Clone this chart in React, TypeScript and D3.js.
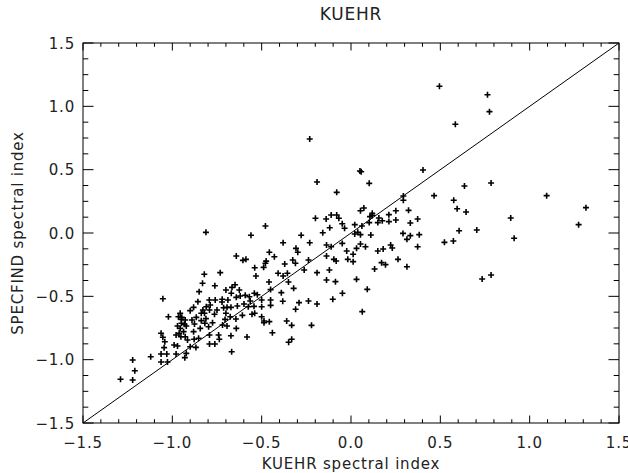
import React from "react";
import * as d3 from "d3";

const kuehrIdx: number[] = [
  -0.231,-0.190,-0.080,-0.199,-0.139,-0.111,-0.080,-0.068,-0.049,-0.119,-0.036,-0.479,
  0.495,0.764,0.775,0.584,0.057,0.050,0.102,0.403,0.635,0.784,0.465,0.293,0.293,0.575,0.594,0.644,1.095,1.315,1.274,0.894,0.053,0.072,0.119,0.119,0.106,0.156,0.175,0.212,0.251,0.322,0.373,0.332,0.251,0.212,0.150,0.102,0.021,0.061,
  0.021,0.038,0.053,0.111,-0.049,0.031,0.053,0.081,0.012,0.012,0.031,0.091,0.063,0.132,0.150,0.180,0.171,0.193,0.222,0.231,0.263,0.313,0.291,0.313,0.332,0.382,0.373,0.523,0.573,0.605,0.704,0.913,0.734,0.784,
  -0.812,-0.560,-0.380,-0.279,-0.231,-0.158,-0.137,-0.111,-0.024,-0.018,-0.137,-0.096,-0.083,-0.308,-0.298,-0.311,-0.457,-0.429,-0.642,-0.605,-0.588,-0.479,-0.475,-0.371,-0.326,-0.238,-0.262,-0.190,-0.121,-0.137,-0.087,-0.102,-0.048,-0.190,-0.238,-0.291,-0.310,-0.360,-0.332,-0.221,-0.332,-0.349,-0.440,-0.487,-0.487,-0.500,-0.457,-0.582,-0.539,-0.500,-0.450,-0.450,-0.382,-0.390,-0.450,-0.408,-0.380,-0.350,-0.321,-0.356,-0.459,-0.489,-0.539,-0.532,-0.541,-0.500,-0.524,-0.564,-0.592,-0.569,-0.599,-0.575,-0.543,-0.554,-0.608,-0.636,-0.642,-0.620,-0.625,-0.666,-0.649,-0.700,-0.670,-0.689,-0.721,-0.722,-0.760,-0.793,-0.788,-0.750,-0.713,-0.694,-0.672,-0.700,-0.705,-0.676,-0.644,-0.642,-0.672,-0.668,-0.694,-0.719,-0.741,-0.737,-0.762,-0.792,-0.792,-0.797,-0.775,-0.764,-0.792,-0.810,-0.829,-0.820,-0.812,-0.818,-0.844,-0.838,-0.838,-0.857,-0.881,-0.900,-0.890,-0.876,-0.866,-0.881,-0.878,-0.853,-0.868,-0.900,-0.915,-0.928,-0.937,-0.956,-0.979,-0.952,-0.949,-0.971,-0.922,-0.928,-0.950,-0.956,-0.966,-0.947,-0.932,-0.962,-0.971,-0.990,-1.022,-1.053,-1.063,-1.053,-1.042,-1.046,-1.063,-1.031,-1.063,-1.027,-0.979,-0.930,-0.922,-1.121,-1.222,-1.210,-1.222,-1.290,-0.831,-0.821,-0.850,-0.762,-0.732,
];

const specfindIdx: number[] = [
  0.742,0.403,0.321,0.116,0.111,0.142,0.142,0.116,0.073,0.042,0.037,0.055,
  1.158,1.092,0.958,0.858,0.484,0.490,0.392,0.497,0.371,0.395,0.295,0.292,0.258,0.258,0.192,0.166,0.295,0.200,0.066,0.118,0.176,0.197,0.155,0.139,0.129,0.118,0.097,0.145,0.176,0.179,0.111,0.079,0.103,0.090,0.082,0.082,0.066,0.055,
  -0.008,0.005,-0.013,-0.016,-0.082,-0.121,-0.087,-0.108,-0.168,-0.226,-0.366,-0.445,-0.621,-0.284,-0.142,-0.126,-0.234,-0.250,-0.095,-0.118,-0.208,-0.266,-0.003,-0.050,-0.021,-0.013,-0.108,-0.074,-0.063,0.018,0.024,-0.042,-0.363,-0.332,
  0.005,-0.018,-0.077,-0.018,-0.077,0.002,-0.095,-0.108,-0.142,-0.208,-0.182,-0.208,-0.221,-0.121,-0.152,-0.239,-0.152,-0.187,-0.182,-0.216,-0.208,-0.239,-0.222,-0.245,-0.213,-0.213,-0.292,-0.313,-0.292,-0.371,-0.384,-0.523,-0.476,-0.561,-0.537,-0.550,-0.602,-0.695,-0.729,-0.729,-0.839,-0.863,-0.787,-0.695,-0.708,-0.661,-0.700,-0.821,-0.634,-0.582,-0.529,-0.571,-0.539,-0.471,-0.447,-0.318,-0.339,-0.387,-0.437,-0.318,-0.387,-0.271,-0.274,-0.339,-0.476,-0.529,-0.487,-0.537,-0.492,-0.503,-0.561,-0.582,-0.579,-0.642,-0.650,-0.576,-0.508,-0.497,-0.450,-0.429,-0.408,-0.450,-0.476,-0.529,-0.523,-0.545,-0.529,-0.529,-0.568,-0.608,-0.590,-0.587,-0.587,-0.634,-0.682,-0.661,-0.679,-0.753,-0.811,-0.937,-0.734,-0.726,-0.805,-0.839,-0.876,-0.876,-0.805,-0.740,-0.708,-0.642,-0.608,-0.582,-0.608,-0.634,-0.676,-0.713,-0.753,-0.634,-0.692,-0.542,-0.587,-0.613,-0.687,-0.718,-0.666,-0.779,-0.839,-0.831,-0.903,-0.898,-0.845,-0.819,-0.779,-0.753,-0.805,-0.819,-0.713,-0.734,-0.734,-0.687,-0.682,-0.634,-0.661,-0.666,-0.721,-0.792,-0.892,-0.884,-0.661,-0.519,-0.792,-0.823,-0.858,-0.905,-0.955,-0.955,-1.018,-1.018,-0.955,-0.984,-0.950,-0.977,-1.003,-1.087,-1.160,-1.155,-0.397,-0.326,-0.463,-0.416,-0.313,
];

const axisDomain: [number, number] = [-1.5, 1.5];
const titleText = "KUEHR";
const xTitle = "KUEHR spectral index";
const yTitle = "SPECFIND spectral index";

const W = 628, H = 473;
const L = 83, R = 619, T = 43, B = 423;

export default function App() {
  const x = d3.scaleLinear().domain(axisDomain).range([L, R]);
  const y = d3.scaleLinear().domain(axisDomain).range([B, T]);
  const fmt = d3.format(".1f");
  const xMajor = d3.range(-1.5, 1.5 + 1e-9, 0.5);
  const xMinor = d3.range(-1.5, 1.5 + 1e-9, 0.1);
  const yMajor = d3.range(-1.5, 1.5 + 1e-9, 0.5);
  const yMinor = d3.range(-1.5, 1.5 + 1e-9, 0.125);
  const xTickLen = 7.5, xMinLen = 3.8;
  const yTickLen = 10.5, yMinLen = 5.3;
  const font = "'DejaVu Sans', sans-serif";
  const s = 3;
  const pts = kuehrIdx.map((v, i) => [x(v), y(specfindIdx[i])]);
  const line = d3.line()([[x(-1.5), y(-1.5)], [x(1.5), y(1.5)]]) || "";
  return (
    <svg width={W} height={H} style={{ position: "absolute", left: 0, top: 0, background: "#fff" }}>
      <rect x={0} y={0} width={W} height={H} fill="#fff" />
      <g stroke="#000" strokeWidth={1} fill="none">
        <rect x={L} y={T} width={R - L} height={B - T} />
        {xMinor.map((v, i) => {
          const maj = Math.abs(v * 2 - Math.round(v * 2)) < 1e-6;
          const len = maj ? xTickLen : xMinLen;
          return (
            <g key={"xt" + i}>
              <line x1={x(v)} x2={x(v)} y1={B} y2={B - len} />
              <line x1={x(v)} x2={x(v)} y1={T} y2={T + len} />
            </g>
          );
        })}
        {yMinor.map((v, i) => {
          const maj = Math.abs(v * 2 - Math.round(v * 2)) < 1e-6;
          const len = maj ? yTickLen : yMinLen;
          return (
            <g key={"yt" + i}>
              <line x1={L} x2={L + len} y1={y(v)} y2={y(v)} />
              <line x1={R} x2={R - len} y1={y(v)} y2={y(v)} />
            </g>
          );
        })}
        <path d={line} />
      </g>
      <g stroke="#000" strokeWidth={1.6}>
        {pts.map(([px, py], i) => (
          <path key={"p" + i} d={`M${px - s},${py}H${px + s}M${px},${py - s}V${py + s}`} />
        ))}
      </g>
      <g fontFamily={font} fontSize={15} fill="#222" letterSpacing={0.8}>
        {xMajor.map((v, i) => (
          <text key={"xl" + i} x={x(v)} y={448} textAnchor="middle">{fmt(v)}</text>
        ))}
        {yMajor.map((v, i) => (
          <text key={"yl" + i} x={75} y={y(v) + 5.5} textAnchor="end">{fmt(v)}</text>
        ))}
        <text x={(L + R) / 2} y={469} textAnchor="middle">{xTitle}</text>
        <text transform={`translate(23,${(T + B) / 2}) rotate(-90)`} textAnchor="middle">{yTitle}</text>
        <text x={(L + R) / 2} y={20} textAnchor="middle" fontSize={17}>{titleText}</text>
      </g>
    </svg>
  );
}
